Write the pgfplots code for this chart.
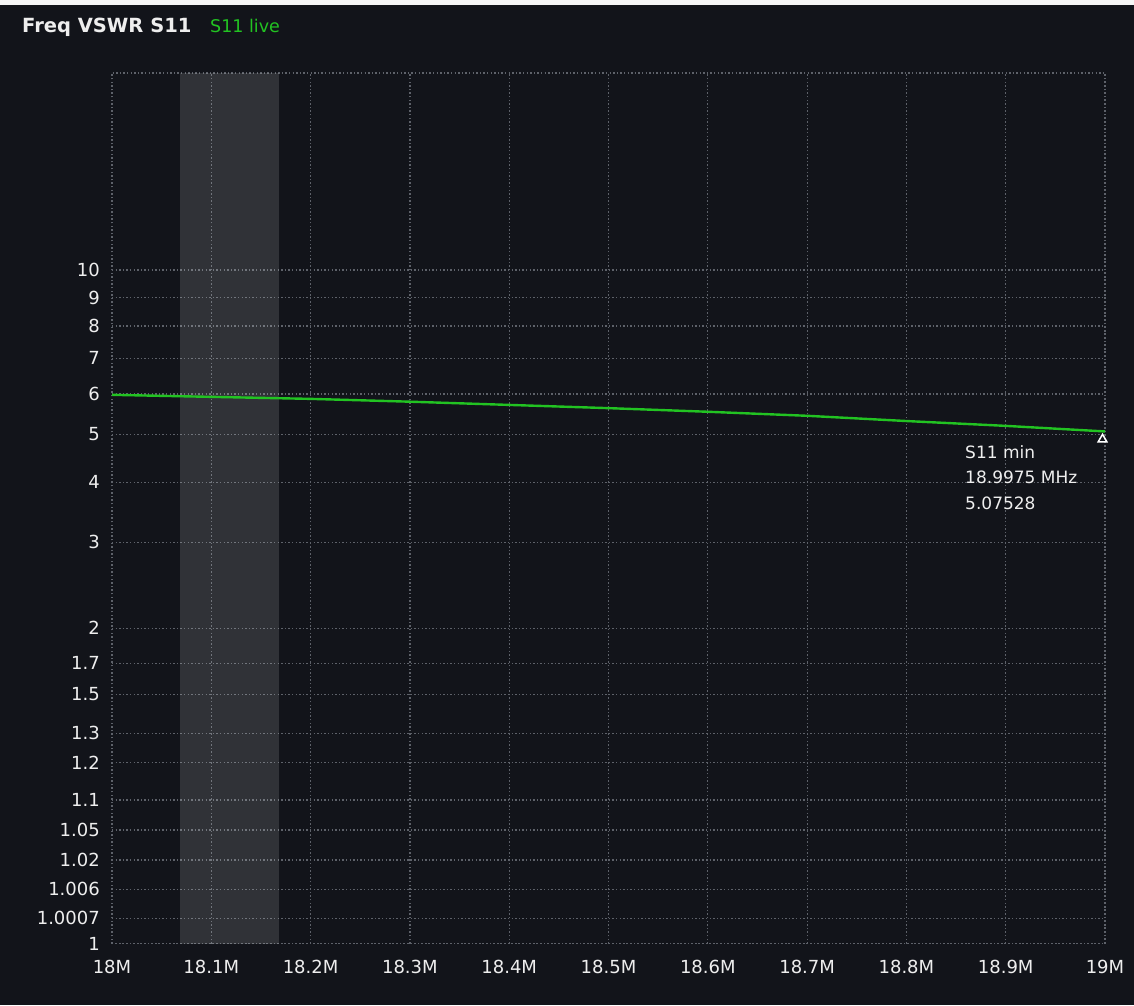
\documentclass[border=0pt]{standalone}
\usepackage{pgfplots}
\pgfplotsset{compat=1.18}
\usepackage{fontspec}
\setmainfont{DejaVu Sans}

\definecolor{bgc}{HTML}{12141A}
\definecolor{gridc}{HTML}{5E626A}
\definecolor{txtc}{HTML}{EEEEEE}
\definecolor{trace}{HTML}{22C322}

% piecewise linear VSWR scale, one segment per grid line
\newcommand\seg[3]{+(#3)*(max(#1,min(\vv,#2))-#1)/(#2-#1)}

\begin{document}
\begin{tikzpicture}
\fill[bgc] (-112pt,-61.5pt) rectangle (1022pt,943.5pt);
\fill[white!93!gray] (-112pt,938.5pt) rectangle (1022pt,943.5pt);
\node[anchor=base west, inner sep=0pt, text=txtc, font=\fontsize{19.5}{22}\selectfont\bfseries] at (-90pt,910.5pt) {Freq VSWR S11};
\node[anchor=base west, inner sep=0pt, text=trace, font=\fontsize{17.5}{20}\selectfont] at (98pt,910.5pt) {S11 live};
\begin{axis}[
  scale only axis,
  width=993pt, height=870.5pt,
  xmin=18, xmax=19,
  ymin=1, ymax=20,
  y coord trafo/.code={\def\vv{#1}\edef\vexpr{0\seg{1}{1.0007}{25.2}\seg{1.0007}{1.006}{29.0}\seg{1.006}{1.02}{29.3}\seg{1.02}{1.05}{30.0}\seg{1.05}{1.1}{30.0}\seg{1.1}{1.2}{37.3}\seg{1.2}{1.3}{29.4}\seg{1.3}{1.5}{39.0}\seg{1.5}{1.7}{31.0}\seg{1.7}{2}{35.0}\seg{2}{3}{86.0}\seg{3}{4}{60.0}\seg{4}{5}{48.0}\seg{5}{6}{40.3}\seg{6}{7}{35.7}\seg{7}{8}{32.3}\seg{8}{9}{28.3}\seg{9}{10}{27.7}\seg{10}{20}{197.0}}\pgfmathparse{\vexpr}},
  xtick={18,18.1,18.2,18.3,18.4,18.5,18.6,18.7,18.8,18.9,19},
  xticklabels={18M,18.1M,18.2M,18.3M,18.4M,18.5M,18.6M,18.7M,18.8M,18.9M,19M},
  ytick={1,1.0007,1.006,1.02,1.05,1.1,1.2,1.3,1.5,1.7,2,3,4,5,6,7,8,9,10},
  yticklabels={1,1.0007,1.006,1.02,1.05,1.1,1.2,1.3,1.5,1.7,2,3,4,5,6,7,8,9,10},
  major tick length=0pt,
  grid=major,
  major grid style={gridc, line width=1.2pt, dash pattern=on 1.4pt off 2.2pt},
  axis line style={gridc, line width=1.2pt, dash pattern=on 1.4pt off 2.2pt},
  tick label style={text=txtc, font=\fontsize{18}{20}\selectfont},
  yticklabel style={anchor=east, inner sep=0pt, xshift=-12pt},
  xticklabel style={anchor=north, inner sep=0pt, yshift=-16pt},
  clip=false,
]
% 17 m band
\addplot[draw=none, fill=white, fill opacity=0.13] coordinates {(18.068,1) (18.068,20) (18.168,20) (18.168,1)} -- cycle;
% S11 trace
\addplot[trace, line width=2.4pt] coordinates {
(18.0,5.98) (18.1,5.93) (18.2,5.88) (18.3,5.81) (18.4,5.73) (18.5,5.65)
(18.6,5.56) (18.7,5.46) (18.8,5.33) (18.9,5.21) (18.9975,5.07528) (19.0,5.075)
};
% min marker
\addplot[only marks, mark=triangle, mark size=5pt, white, mark options={yshift=-8pt, line width=1.5pt}] coordinates {(18.9975,5.07528)};
\addplot[draw=none, nodes near coords={S11 min\\18.9975 MHz\\5.07528},
  every node near coord/.style={anchor=north west, align=left, inner sep=0pt, xshift=-137.5pt, yshift=-14pt, text=txtc, font=\fontsize{17}{25.5}\selectfont}]
  coordinates {(18.9975,5.07528)};
\end{axis}
\end{tikzpicture}
\end{document}
